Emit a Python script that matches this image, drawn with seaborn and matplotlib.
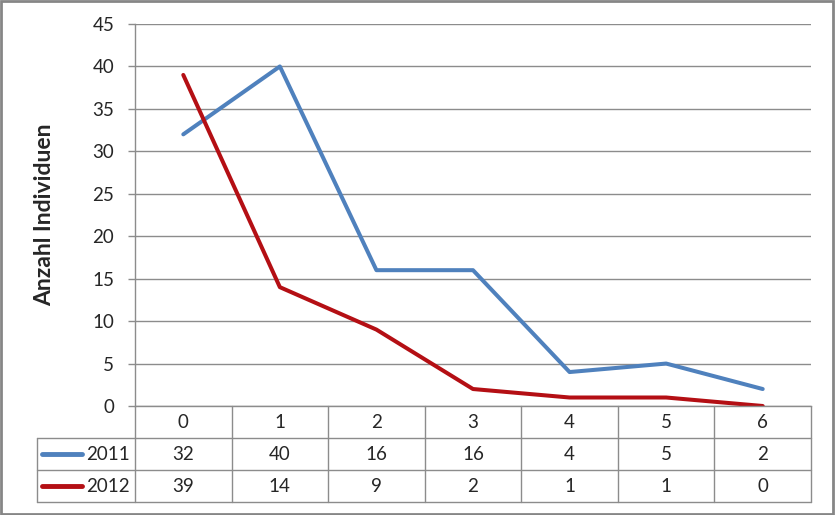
import pandas as pd
import seaborn as sns
import matplotlib.pyplot as plt

sns.set_style("white")
plt.rcParams["font.family"] = ["Lato", "DejaVu Sans"]

categories = [0, 1, 2, 3, 4, 5, 6]
years = ["2011", "2012"]
values_2011 = [32, 40, 16, 16, 4, 5, 2]
values_2012 = [39, 14, 9, 2, 1, 1, 0]
y_ticks = [0, 5, 10, 15, 20, 25, 30, 35, 40, 45]
colors = {"2011": "#4F81BD", "2012": "#B40F14"}
grid_col = "#8C8C8C"

df = pd.DataFrame({
    "pos": list(range(len(categories))) * 2,
    "value": values_2011 + values_2012,
    "year": ["2011"] * len(categories) + ["2012"] * len(categories),
})

W, H = 835, 515
fig = plt.figure(figsize=(W / 100, H / 100), dpi=100)


def box(x0, y0, x1, y1):
    # pixel box -> figure rect
    return [x0 / W, 1 - y1 / H, (x1 - x0) / W, (y1 - y0) / H]


ax = fig.add_axes(box(135, 24, 811, 406))
sns.lineplot(data=df, x="pos", y="value", hue="year", palette=colors,
             linewidth=2.9, legend=False, ax=ax)
ax.set_xlim(-0.5, len(categories) - 0.5)
ax.set_ylim(0, 45)
ax.set_yticks(y_ticks)
ax.set_yticklabels([str(t) for t in y_ticks], fontsize=13.5)
ax.set_xticks([])
ax.set_xlabel("")
ax.set_ylabel("Anzahl Individuen", fontsize=16.5, fontweight="bold")
ax.yaxis.set_label_coords(-80 / 676, 0.5)
ax.yaxis.grid(True, color=grid_col, linewidth=1)
ax.tick_params(axis="y", length=5, width=1, color=grid_col, pad=10, left=True)
for s in ["top", "right"]:
    ax.spines[s].set_visible(False)
for s in ["left", "bottom"]:
    ax.spines[s].set_color(grid_col)
    ax.spines[s].set_linewidth(1)

# data table under the chart
n = len(categories)
left_x = -0.5 - 98 / (676 / n)
tab = fig.add_axes(box(37, 406, 811, 502))
tab.set_xlim(left_x, n - 0.5)
tab.set_ylim(3, 0)
tab.axis("off")
kw = dict(color=grid_col, linewidth=1, clip_on=False)
for yy in [1, 2, 3]:
    tab.plot([left_x, n - 0.5], [yy, yy], **kw)
tab.plot([left_x, left_x], [1, 3], **kw)
for i in range(n + 1):
    tab.plot([i - 0.5, i - 0.5], [0, 3], **kw)

for i, c in enumerate(categories):
    tab.text(i, 0.5, str(c), ha="center", va="center", fontsize=13.5)
for r, (yr, vals) in enumerate(zip(years, [values_2011, values_2012]), start=1):
    tab.plot([left_x + 0.05, left_x + 0.47], [r + 0.5, r + 0.5],
             color=colors[yr], linewidth=3.5, solid_capstyle="round", clip_on=False)
    tab.text(-0.55, r + 0.5, yr, ha="right", va="center", fontsize=13.5)
    for i, v in enumerate(vals):
        tab.text(i, r + 0.5, str(v), ha="center", va="center", fontsize=13.5)

# outer frame
fig.patches.append(plt.Rectangle((0.001, 0.002), 0.997, 0.996, transform=fig.transFigure,
                                 fill=False, edgecolor="#868686", linewidth=2))

fig.savefig("out.png", dpi=100)
